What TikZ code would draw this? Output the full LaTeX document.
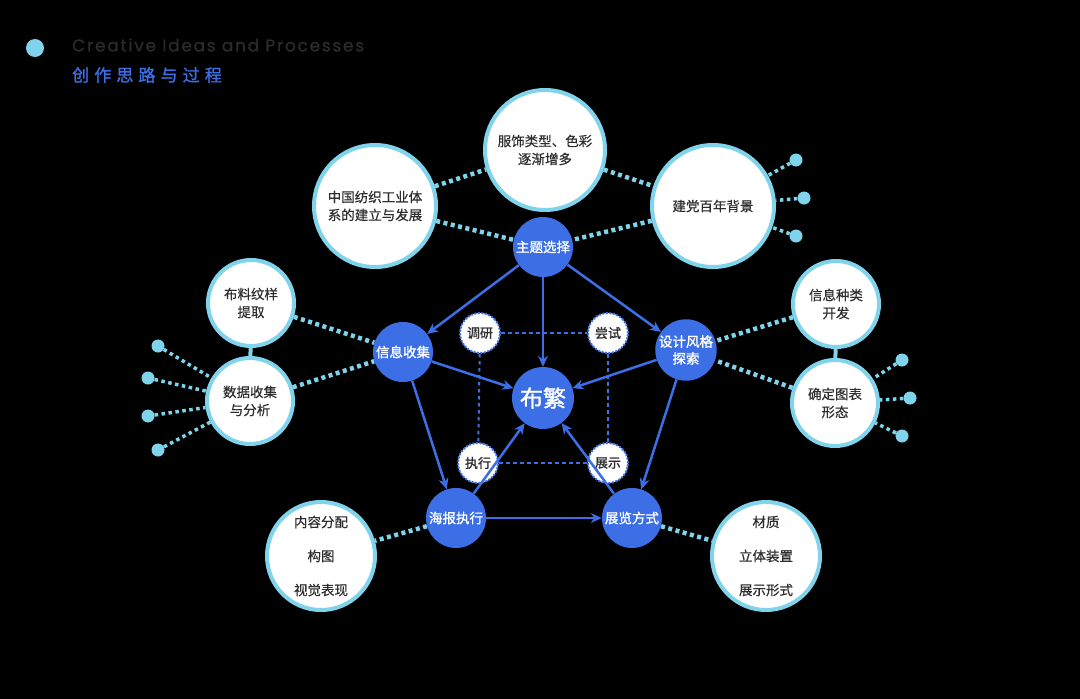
\documentclass[tikz,border=0pt]{standalone}
\usepackage{fontspec}
\newfontfamily\cjk[FakeBold=0.4]{Noto Sans CJK SC}
\newfontfamily\cjkb[FakeBold=1.3]{Noto Sans CJK SC}
\newfontfamily\pop[FakeBold=1]{Poppins}
\usetikzlibrary{arrows.meta}
\definecolor{cyanc}{HTML}{7FD4EC}
\definecolor{blueC}{HTML}{3C6FE6}
\definecolor{txtg}{HTML}{2E2E2E}
\definecolor{hdrg}{HTML}{2B2B2B}
\pgfdeclarelayer{bg}
\pgfdeclarelayer{edges}
\pgfsetlayers{bg,edges,main}
\tikzset{
  bigc/.style={circle,fill=white,draw=cyanc,line width=4pt,text=txtg,inner sep=0pt,align=center,
    font=\cjk\fontsize{13.5}{18}\selectfont},
  bluen/.style={circle,fill=blueC,text=white,inner sep=0pt,align=center,minimum size=60pt,
    font=\cjkb\fontsize{13.5}{17}\selectfont},
  smallc/.style={circle,fill=white,draw=blueC,line width=2pt,dash pattern=on 2pt off 1.5pt,
    minimum size=40pt,inner sep=0pt,text=txtg,font=\cjkb\fontsize{13}{16}\selectfont},
  odot/.style={circle,fill=cyanc,minimum size=13pt,inner sep=0pt},
  dotl/.style={draw=cyanc,line width=4.5pt,dash pattern=on 4pt off 3.5pt},
  dotthin/.style={draw=cyanc,line width=3.5pt,dash pattern=on 3.5pt off 3.5pt},
  arr/.style={draw=blueC,line width=2.5pt,-{Stealth[length=11pt,width=10pt]}},
  dl/.style={draw=blueC,line width=2pt,dash pattern=on 3.5pt off 3.5pt},
}
\begin{document}
\begin{tikzpicture}[x=1pt,y=-1pt]
\begin{pgfonlayer}{bg}
\fill[black] (0,0) rectangle (1080,699);
\end{pgfonlayer}
\useasboundingbox (0,0) rectangle (1080,699);
% header
\node[circle,fill=cyanc,minimum size=18pt,inner sep=0pt] (hd) at (35,48) {};
\node[anchor=west,text=hdrg,inner sep=0pt,font=\pop\fontsize{17}{20}\selectfont\addfontfeature{LetterSpace=10}] (en) at (72,45) {Creative Ideas and Processes};
\node[anchor=west,text=blueC,inner sep=0pt,font=\cjkb\fontsize{17}{20}\selectfont\addfontfeature{LetterSpace=30}] (zh) at (72,75) {创作思路与过程};
% big circles
\node[bigc,minimum size=120pt] (fz) at (545,150) {服饰类型、色彩\\逐渐增多};
\node[bigc,minimum size=122pt] (zg) at (375,206) {中国纺织工业体\\系的建立与发展};
\node[bigc,minimum size=122pt] (jd) at (713,206) {建党百年背景};
\node[bigc,minimum size=86pt] (bl) at (251,303) {布料纹样\\提取};
\node[bigc,minimum size=86pt] (sj) at (250,401) {数据收集\\与分析};
\node[bigc,minimum size=86pt] (xz) at (836,304) {信息种类\\开发};
\node[bigc,minimum size=86pt] (qd) at (835,403) {确定图表\\形态};
\node[bigc,minimum size=108pt,font=\cjk\fontsize{13.5}{34}\selectfont] (nr) at (321,556) {内容分配\\构图\\视觉表现};
\node[bigc,minimum size=108pt,font=\cjk\fontsize{13.5}{34}\selectfont] (cz) at (766,556) {材质\\立体装置\\展示形式};
% blue nodes
\node[bluen] (zt) at (543,247) {主题选择};
\node[bluen] (xs) at (403,352) {信息收集};
\node[bluen] (sf) at (686,350) {设计风格\\探索};
\node[bluen] (hb) at (456,518) {海报执行};
\node[bluen] (zl) at (632,518) {展览方式};
\node[bluen,minimum size=62pt,font=\cjkb\fontsize{23}{26}\selectfont] (bf) at (543,398) {布繁};
% small dashed
\node[smallc] (dy) at (480,333) {调研};
\node[smallc] (cs) at (608,333) {尝试};
\node[smallc] (zx) at (478,463) {执行};
\node[smallc] (zs) at (608,463) {展示};
% outer dots
\node[odot] (l1) at (158,346) {};
\node[odot] (l2) at (148,378) {};
\node[odot] (l3) at (148,416) {};
\node[odot] (l4) at (158,450) {};
\node[odot] (r1) at (796,160) {};
\node[odot] (r2) at (804,198) {};
\node[odot] (r3) at (796,236) {};
\node[odot] (s1) at (902,360) {};
\node[odot] (s2) at (910,398) {};
\node[odot] (s3) at (902,436) {};
\begin{pgfonlayer}{edges}
\draw[dotl] (zg) -- (fz);
\draw[dotl] (fz) -- (jd);
\draw[dotl] (zg) -- (zt);
\draw[dotl] (jd) -- (zt);
\draw[dotl] (bl) -- (xs);
\draw[dotl] (sj) -- (xs);
\draw[dotl] (xz) -- (sf);
\draw[dotl] (qd) -- (sf);
\draw[dotl] (hb) -- (nr);
\draw[dotl] (zl) -- (cz);
\draw[draw=cyanc,line width=4pt] (bl) -- (sj);
\draw[draw=cyanc,line width=4pt] (xz) -- (qd);
\foreach \d in {l1,l2,l3,l4} \draw[dotthin] (\d) -- (sj);
\foreach \d in {r1,r2,r3} \draw[dotthin] (\d) -- (jd);
\foreach \d in {s1,s2,s3} \draw[dotthin] (\d) -- (qd);
\draw[dl] (dy) -- (cs);
\draw[dl] (dy) -- (zx);
\draw[dl] (cs) -- (zs);
\draw[dl] (zx) -- (zs);
\end{pgfonlayer}
% arrows
\draw[arr] (zt) -- (xs);
\draw[arr] (zt) -- (bf);
\draw[arr] (zt) -- (sf);
\draw[arr] (xs) -- (bf);
\draw[arr] (sf) -- (bf);
\draw[arr] (xs) -- (hb);
\draw[arr] (sf) -- (zl);
\draw[arr] (hb) -- (bf);
\draw[arr] (zl) -- (bf);
\draw[arr] (hb) -- (zl);
\end{tikzpicture}
\end{document}
